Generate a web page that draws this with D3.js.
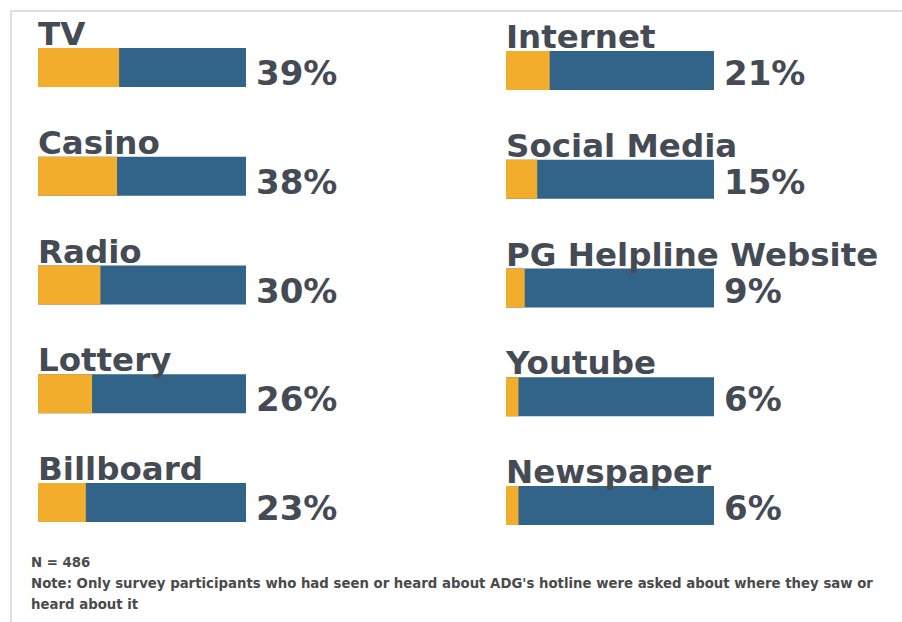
<!DOCTYPE html>
<html>
<head>
<meta charset="utf-8">
<script src="https://cdn.jsdelivr.net/npm/d3@7"></script>
<style>
  html, body { margin: 0; padding: 0; background: #fff; }
  svg { display: block; }
</style>
</head>
<body>
<svg id="chart" width="902" height="622"></svg>
<script>
// Where respondents saw or heard about the hotline (share of N = 486)
const leftCategories = ["TV", "Casino", "Radio", "Lottery", "Billboard"];
const leftValues = [39, 38, 30, 26, 23];
const rightCategories = ["Internet", "Social Media", "PG Helpline Website", "Youtube", "Newspaper"];
const rightValues = [21, 15, 9, 6, 6];
const footnotes = [
  "N = 486",
  "Note: Only survey participants who had seen or heard about ADG's hotline were asked about where they saw or",
  "heard about it"
];

const W = 902, H = 622;
const ORANGE = "#f2ad2d", BLUE = "#32648a", TEXT = "#454b54";
const FONT = "'DejaVu Sans', sans-serif";

const svg = d3.select("#chart");
svg.append("rect").attr("width", W).attr("height", H).attr("fill", "#fff");

// light frame along the top and left edges
svg.append("path")
  .attr("d", `M11,${H} V11 H${W}`)
  .attr("fill", "none")
  .attr("stroke", "#dedede")
  .attr("stroke-width", 2);

// share scale: full bar = 100 %
const x = d3.scaleLinear().domain([0, 100]).range([0, 208]);
const barH = 39;

function drawColumn(cats, vals, x0, yTop, yBottom, valueDy) {
  const y = d3.scalePoint().domain(cats).range([yTop, yBottom]);
  const data = cats.map((c, i) => ({ cat: c, val: vals[i] }));
  const g = svg.append("g").attr("transform", `translate(${x0},0)`);
  const row = g.selectAll("g.row").data(data).join("g").attr("class", "row");

  // remainder (blue) spans the full bar
  row.append("rect")
    .attr("x", x(0))
    .attr("y", d => y(d.cat))
    .attr("width", x(100) - x(0))
    .attr("height", barH)
    .attr("fill", BLUE);

  // share (orange)
  row.append("rect")
    .attr("x", x(0))
    .attr("y", d => y(d.cat))
    .attr("width", d => x(d.val) - x(0))
    .attr("height", barH)
    .attr("fill", ORANGE);

  // category label above the bar
  row.append("text")
    .attr("x", x(0))
    .attr("y", d => y(d.cat) - 3)
    .attr("font-family", FONT)
    .attr("font-weight", "bold")
    .attr("font-size", 32.5)
    .attr("fill", TEXT)
    .text(d => d.cat);

  // value label right of the bar
  row.append("text")
    .attr("x", x(100) + 10)
    .attr("y", d => y(d.cat) + barH + valueDy)
    .attr("font-family", FONT)
    .attr("font-weight", "bold")
    .attr("font-size", 34)
    .attr("fill", TEXT)
    .text(d => d.val + "%");
}

drawColumn(leftCategories, leftValues, 38, 48, 483, -2);
drawColumn(rightCategories, rightValues, 506, 51, 486, -5);

// footnotes
svg.append("g").selectAll("text").data(footnotes).join("text")
  .attr("x", 31)
  .attr("y", (d, i) => 567 + i * 21)
  .attr("font-family", FONT)
  .attr("font-weight", "bold")
  .attr("font-size", 13.3)
  .attr("fill", "#4a4a4a")
  .text(d => d);
</script>
</body>
</html>
